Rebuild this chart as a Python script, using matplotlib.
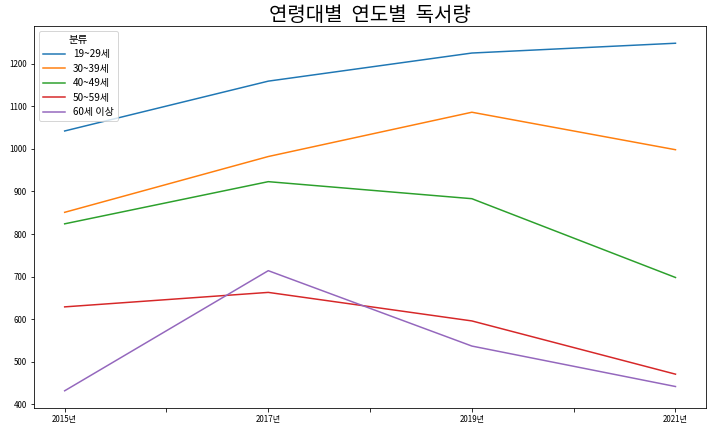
import matplotlib.pyplot as plt

plt.rcParams['font.family'] = ['Noto Sans CJK KR', 'DejaVu Sans']
plt.rcParams['axes.unicode_minus'] = False

years = ['2015년', '2017년', '2019년', '2021년']
age_groups = ['19~29세', '30~39세', '40~49세', '50~59세', '60세 이상']

age_19_29 = [1042, 1159, 1225, 1248]
age_30_39 = [851, 982, 1086, 998]
age_40_49 = [824, 923, 883, 698]
age_50_59 = [629, 663, 596, 471]
age_60_up = [432, 714, 537, 442]

series = [age_19_29, age_30_39, age_40_49, age_50_59, age_60_up]

fig = plt.figure(figsize=(711 / 72, 431 / 72), dpi=72)
ax = fig.add_axes([0.048, 0.053, 0.945, 0.887])

x = list(range(len(years)))
for name, vals in zip(age_groups, series):
    ax.plot(x, vals, label=name, linewidth=1.5)

ticks = [i * 0.5 for i in range(2 * len(years) - 1)]
labels = [years[int(t)] if t == int(t) else '' for t in ticks]
ax.set_xticks(ticks)
ax.set_xticklabels(labels, fontsize=8)
ax.tick_params(axis='y', labelsize=8)

ax.set_title('연령대별  연도별  독서량', fontsize=20, pad=4)
ax.legend(title='분류', loc='upper left', fontsize=10, title_fontsize=10.5,
          labelspacing=0.45, handlelength=2.2)

fig.savefig('out.png', dpi=72)
